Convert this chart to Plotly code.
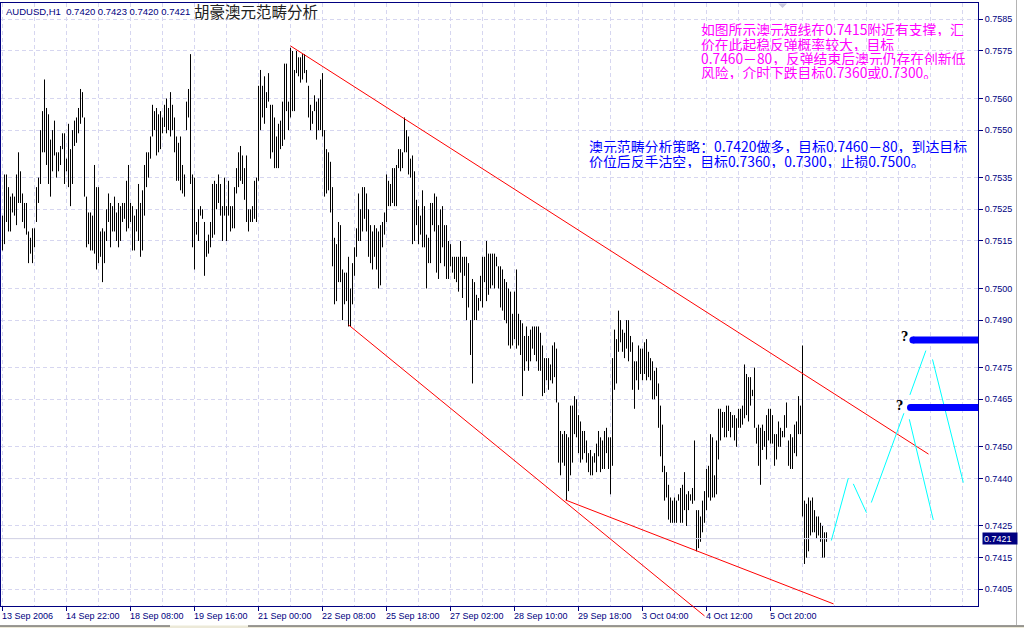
import plotly.graph_objects as go

# ---------------- data ----------------
symbol_header = "AUDUSD,H1\u00a0\u00a00.7420 0.7423 0.7420 0.7421"
title_cn = "胡豪澳元范畴分析"

highs = [
    0.7523, 0.7536, 0.7536, 0.7532, 0.7529, 0.7530, 0.7529, 0.7536, 0.7543, 0.7537,
    0.7530, 0.7527, 0.7527, 0.7518, 0.7516, 0.7519, 0.7519, 0.7532, 0.7535, 0.7550,
    0.7556, 0.7566, 0.7557, 0.7555, 0.7547, 0.7550, 0.7553, 0.7543, 0.7543, 0.7545,
    0.7549, 0.7549, 0.7541, 0.7552, 0.7544, 0.7550, 0.7553, 0.7554, 0.7557, 0.7563,
    0.7562, 0.7554, 0.7529, 0.7524, 0.7524, 0.7523, 0.7539, 0.7532, 0.7532, 0.7518,
    0.7519, 0.7518, 0.7525, 0.7530, 0.7527, 0.7526, 0.7529, 0.7524, 0.7527, 0.7526,
    0.7527, 0.7527, 0.7534, 0.7539, 0.7527, 0.7526, 0.7523, 0.7525, 0.7533, 0.7527,
    0.7531, 0.7539, 0.7543, 0.7543, 0.7548, 0.7558, 0.7556, 0.7557, 0.7555, 0.7556,
    0.7554, 0.7558, 0.7560, 0.7557, 0.7562, 0.7558, 0.7554, 0.7548, 0.7546, 0.7548,
    0.7539, 0.7536, 0.7559, 0.7563, 0.7574, 0.7536, 0.7535, 0.7521, 0.7525, 0.7526,
    0.7525, 0.7521, 0.7515, 0.7517, 0.7521, 0.7533, 0.7534, 0.7533, 0.7536, 0.7533,
    0.7526, 0.7535, 0.7526, 0.7534, 0.7526, 0.7526, 0.7532, 0.7538, 0.7543, 0.7545,
    0.7542, 0.7538, 0.7542, 0.7525, 0.7525, 0.7526, 0.7534, 0.7535, 0.7564, 0.7569,
    0.7564, 0.7567, 0.7562, 0.7568, 0.7558, 0.7558, 0.7554, 0.7548, 0.7552, 0.7553,
    0.7559, 0.7571, 0.7571, 0.7559, 0.7576, 0.7575, 0.7569, 0.7575, 0.7573, 0.7573,
    0.7574, 0.7574, 0.7569, 0.7564, 0.7558, 0.7556, 0.7561, 0.7559, 0.7560, 0.7566,
    0.7568, 0.7550, 0.7544, 0.7543, 0.7540, 0.7532, 0.7516, 0.7514, 0.7521, 0.7520,
    0.7506, 0.7505, 0.7505, 0.7510, 0.7500, 0.7508, 0.7513, 0.7519, 0.7530, 0.7525,
    0.7532, 0.7532, 0.7530, 0.7525, 0.7520, 0.7518, 0.7520, 0.7519, 0.7518, 0.7520,
    0.7521, 0.7524, 0.7536, 0.7534, 0.7533, 0.7538, 0.7538, 0.7539, 0.7544, 0.7544,
    0.7543, 0.7554, 0.7550, 0.7548, 0.7541, 0.7542, 0.7537, 0.7528, 0.7526, 0.7523,
    0.7531, 0.7526, 0.7517, 0.7516, 0.7527, 0.7527, 0.7530, 0.7529, 0.7520, 0.7525,
    0.7526, 0.7520, 0.7520, 0.7515, 0.7514, 0.7510, 0.7510, 0.7510, 0.7510, 0.7515,
    0.7510, 0.7510, 0.7510, 0.7508, 0.7490, 0.7503, 0.7502, 0.7498, 0.7497, 0.7504,
    0.7510, 0.7510, 0.7515, 0.7511, 0.7511, 0.7511, 0.7511, 0.7510, 0.7507, 0.7507,
    0.7506, 0.7503, 0.7502, 0.7500, 0.7499, 0.7492, 0.7499, 0.7506, 0.7492, 0.7490,
    0.7489, 0.7485, 0.7488, 0.7485, 0.7487, 0.7488, 0.7488, 0.7488, 0.7488, 0.7486,
    0.7482, 0.7478, 0.7478, 0.7478, 0.7476, 0.7482, 0.7483, 0.7481, 0.7464, 0.7455,
    0.7454, 0.7455, 0.7454, 0.7453, 0.7463, 0.7463, 0.7466, 0.7465, 0.7460, 0.7458,
    0.7455, 0.7455, 0.7452, 0.7448, 0.7449, 0.7447, 0.7448, 0.7451, 0.7455, 0.7453,
    0.7452, 0.7455, 0.7456, 0.7453, 0.7453, 0.7478, 0.7487, 0.7484, 0.7493, 0.7490,
    0.7487, 0.7486, 0.7490, 0.7490, 0.7485, 0.7483, 0.7477, 0.7477, 0.7482, 0.7481,
    0.7481, 0.7483, 0.7484, 0.7480, 0.7478, 0.7477, 0.7474, 0.7475, 0.7470, 0.7463,
    0.7457, 0.7444, 0.7442, 0.7438, 0.7434, 0.7433, 0.7434, 0.7433, 0.7435, 0.7437,
    0.7438, 0.7442, 0.7435, 0.7436, 0.7435, 0.7437, 0.7452, 0.7430, 0.7430, 0.7428,
    0.7433, 0.7436, 0.7443, 0.7444, 0.7454, 0.7453, 0.7441, 0.7452, 0.7462, 0.7462,
    0.7461, 0.7461, 0.7463, 0.7463, 0.7461, 0.7460, 0.7460, 0.7459, 0.7462, 0.7462,
    0.7463, 0.7476, 0.7473, 0.7472, 0.7472, 0.7468, 0.7475, 0.7456, 0.7457, 0.7456,
    0.7457, 0.7455, 0.7460, 0.7462, 0.7462, 0.7460, 0.7454, 0.7454, 0.7458, 0.7456,
    0.7455, 0.7460, 0.7464, 0.7452, 0.7454, 0.7453, 0.7457, 0.7458, 0.7466, 0.7463,
    0.7482, 0.7433, 0.7432, 0.7434, 0.7433, 0.7434, 0.7430, 0.7428, 0.7428, 0.7426,
    0.7425, 0.7423, 0.7423,
]

lows = [
    0.7512, 0.7514, 0.7521, 0.7518, 0.7518, 0.7524, 0.7523, 0.7520, 0.7527, 0.7527,
    0.7521, 0.7519, 0.7517, 0.7508, 0.7511, 0.7508, 0.7513, 0.7521, 0.7527, 0.7533,
    0.7543, 0.7543, 0.7539, 0.7533, 0.7529, 0.7537, 0.7542, 0.7535, 0.7537, 0.7539,
    0.7544, 0.7533, 0.7537, 0.7532, 0.7526, 0.7533, 0.7545, 0.7546, 0.7549, 0.7552,
    0.7554, 0.7529, 0.7513, 0.7514, 0.7512, 0.7512, 0.7511, 0.7506, 0.7508, 0.7510,
    0.7502, 0.7508, 0.7515, 0.7521, 0.7513, 0.7518, 0.7518, 0.7515, 0.7513, 0.7515,
    0.7521, 0.7522, 0.7518, 0.7519, 0.7521, 0.7512, 0.7512, 0.7518, 0.7515, 0.7510,
    0.7512, 0.7523, 0.7532, 0.7535, 0.7541, 0.7548, 0.7550, 0.7542, 0.7543, 0.7544,
    0.7549, 0.7551, 0.7549, 0.7550, 0.7548, 0.7550, 0.7543, 0.7534, 0.7534, 0.7531,
    0.7530, 0.7529, 0.7550, 0.7554, 0.7533, 0.7513, 0.7506, 0.7517, 0.7515, 0.7523,
    0.7522, 0.7504, 0.7510, 0.7511, 0.7513, 0.7516, 0.7517, 0.7525, 0.7527, 0.7523,
    0.7515, 0.7523, 0.7515, 0.7523, 0.7518, 0.7519, 0.7519, 0.7530, 0.7532, 0.7534,
    0.7533, 0.7528, 0.7521, 0.7518, 0.7521, 0.7521, 0.7522, 0.7521, 0.7534, 0.7550,
    0.7554, 0.7552, 0.7557, 0.7559, 0.7541, 0.7543, 0.7538, 0.7538, 0.7538, 0.7544,
    0.7545, 0.7547, 0.7556, 0.7550, 0.7554, 0.7556, 0.7556, 0.7568, 0.7567, 0.7565,
    0.7566, 0.7568, 0.7565, 0.7554, 0.7550, 0.7552, 0.7556, 0.7547, 0.7550, 0.7550,
    0.7548, 0.7529, 0.7530, 0.7531, 0.7524, 0.7507, 0.7495, 0.7496, 0.7502, 0.7502,
    0.7490, 0.7495, 0.7496, 0.7488, 0.7488, 0.7495, 0.7504, 0.7510, 0.7515, 0.7515,
    0.7518, 0.7522, 0.7518, 0.7510, 0.7508, 0.7506, 0.7510, 0.7506, 0.7500, 0.7501,
    0.7513, 0.7517, 0.7521, 0.7526, 0.7526, 0.7527, 0.7526, 0.7526, 0.7538, 0.7537,
    0.7538, 0.7543, 0.7543, 0.7536, 0.7535, 0.7514, 0.7515, 0.7520, 0.7514, 0.7517,
    0.7513, 0.7513, 0.7500, 0.7508, 0.7508, 0.7520, 0.7518, 0.7505, 0.7503, 0.7508,
    0.7513, 0.7507, 0.7503, 0.7503, 0.7507, 0.7505, 0.7503, 0.7502, 0.7499, 0.7505,
    0.7497, 0.7504, 0.7490, 0.7494, 0.7479, 0.7470, 0.7490, 0.7490, 0.7493, 0.7496,
    0.7494, 0.7502, 0.7496, 0.7498, 0.7500, 0.7501, 0.7500, 0.7507, 0.7500, 0.7494,
    0.7493, 0.7490, 0.7489, 0.7482, 0.7481, 0.7482, 0.7484, 0.7481, 0.7482, 0.7479,
    0.7466, 0.7474, 0.7477, 0.7474, 0.7477, 0.7481, 0.7479, 0.7477, 0.7474, 0.7474,
    0.7466, 0.7467, 0.7471, 0.7468, 0.7471, 0.7470, 0.7472, 0.7464, 0.7445, 0.7441,
    0.7445, 0.7444, 0.7433, 0.7436, 0.7441, 0.7445, 0.7454, 0.7453, 0.7448, 0.7445,
    0.7446, 0.7448, 0.7445, 0.7442, 0.7441, 0.7441, 0.7445, 0.7442, 0.7447, 0.7442,
    0.7443, 0.7443, 0.7448, 0.7443, 0.7435, 0.7444, 0.7468, 0.7470, 0.7480, 0.7483,
    0.7480, 0.7478, 0.7481, 0.7477, 0.7480, 0.7468, 0.7462, 0.7471, 0.7468, 0.7473,
    0.7471, 0.7473, 0.7471, 0.7472, 0.7471, 0.7465, 0.7465, 0.7466, 0.7456, 0.7447,
    0.7442, 0.7433, 0.7434, 0.7427, 0.7426, 0.7426, 0.7426, 0.7426, 0.7433, 0.7426,
    0.7426, 0.7430, 0.7425, 0.7430, 0.7433, 0.7432, 0.7433, 0.7417, 0.7418, 0.7420,
    0.7423, 0.7426, 0.7430, 0.7434, 0.7433, 0.7434, 0.7434, 0.7435, 0.7446, 0.7452,
    0.7456, 0.7453, 0.7453, 0.7455, 0.7453, 0.7456, 0.7452, 0.7450, 0.7456, 0.7456,
    0.7457, 0.7459, 0.7460, 0.7458, 0.7463, 0.7466, 0.7456, 0.7451, 0.7444, 0.7438,
    0.7449, 0.7450, 0.7446, 0.7452, 0.7451, 0.7451, 0.7444, 0.7446, 0.7450, 0.7450,
    0.7453, 0.7453, 0.7456, 0.7444, 0.7443, 0.7443, 0.7448, 0.7447, 0.7454, 0.7454,
    0.7428, 0.7413, 0.7415, 0.7417, 0.7422, 0.7423, 0.7423, 0.7421, 0.7422, 0.7420,
    0.7415, 0.7415, 0.7420,
]

last_close = 0.7421

x_tick_bars = list(range(0, 385, 32))
x_tick_labels = ["13 Sep 2006", "14 Sep 22:00", "18 Sep 08:00", "19 Sep 16:00",
                 "21 Sep 00:00", "22 Sep 08:00", "25 Sep 18:00", "27 Sep 02:00",
                 "28 Sep 10:00", "29 Sep 18:00", "3 Oct 04:00", "4 Oct 12:00",
                 "5 Oct 20:00"]
minor_grid_bars = [b for b in range(16, 481, 16) if b not in x_tick_bars]

y_tick_vals = [0.7585, 0.7575, 0.7560, 0.7550, 0.7535, 0.7525, 0.7515, 0.7500,
               0.7490, 0.7475, 0.7465, 0.7450, 0.7440, 0.7425, 0.7415, 0.7405]

# trend lines (bar index, price)
upper_channel_x = [144.0, 463.0]
upper_channel_y = [0.75766, 0.74477]
lower_channel1_x = [173.0, 351.0]
lower_channel1_y = [0.74885, 0.73966]
lower_channel2_x = [281.5, 415.5]
lower_channel2_y = [0.74332, 0.74004]

# forecast zig-zag segments (bar index, price)
forecast_x = [[414.4, 422.9], [425.4, 432.0], [434.4, 450.7],
              [453.4, 465.4], [453.7, 461.7], [465.0, 480.4]]
forecast_y = [[0.74204, 0.74401], [0.74383, 0.74292], [0.74324, 0.74606],
              [0.74587, 0.74269], [0.74664, 0.74804], [0.74776, 0.74387]]

# target levels
target_levels = [0.74837, 0.74624]
target_start = [455.2, 454.0]
target_end = 489.0
question_x = [451.2, 448.3]
question_y = [0.74848, 0.74629]

pink_lines = ["如图所示澳元短线在0.7415附近有支撑，汇",
              "价在此起稳反弹概率较大，目标",
              "0.7460－80，反弹结束后澳元仍存在创新低",
              "风险，介时下跌目标0.7360或0.7300。"]
blue_lines = ["澳元范畴分析策略：0.7420做多，目标0.7460－80，到达目标",
              "价位后反手沽空，目标0.7360，0.7300，止损0.7500。"]

# ---------------- figure ----------------
W, H = 1024, 628
ML, MR, MT, MB = 1, 46, 3, 22
X_RANGE = [-0.75, 487.75]
Y_RANGE = [0.739973, 0.759015]
NAVY = "#000080"
GRID = "#d6d6f0"
TICK_FONT = dict(family="Liberation Sans", size=9, color=NAVY)


def px(x):  # pixel -> paper x
    return (x - ML) / (W - ML - MR)


def py(y):  # pixel -> paper y
    return (H - MB - y) / (H - MT - MB)


def data_to_paper_x(v):
    return (v - X_RANGE[0]) / (X_RANGE[1] - X_RANGE[0])


def data_to_paper_y(v):
    return (v - Y_RANGE[0]) / (Y_RANGE[1] - Y_RANGE[0])


fig = go.Figure()

# price bars (high-low)
bx, by = [], []
for i, (h, l) in enumerate(zip(highs, lows)):
    bx += [i, i, None]
    by += [l, h, None]
fig.add_trace(go.Scatter(x=bx, y=by, mode="lines",
                         line=dict(color="black", width=1), hoverinfo="skip"))

# current price line
fig.add_trace(go.Scatter(x=[X_RANGE[0], X_RANGE[1]], y=[last_close, last_close],
                         mode="lines", line=dict(color="#cfcfe4", width=1),
                         hoverinfo="skip"))

# channel lines
for cx, cy in [(upper_channel_x, upper_channel_y),
               (lower_channel1_x, lower_channel1_y),
               (lower_channel2_x, lower_channel2_y)]:
    fig.add_trace(go.Scatter(x=cx, y=cy, mode="lines",
                             line=dict(color="#ff0000", width=1), hoverinfo="skip"))

# forecast zigzag
for fx, fy in zip(forecast_x, forecast_y):
    fig.add_trace(go.Scatter(x=fx, y=fy, mode="lines",
                             line=dict(color="#00ffff", width=1), hoverinfo="skip"))

# target bars
for lvl, xs in zip(target_levels, target_start):
    fig.add_trace(go.Scatter(x=[xs, target_end], y=[lvl, lvl], mode="lines+markers",
                             line=dict(color="#0000ff", width=7),
                             marker=dict(color="#0000ff", size=7),
                             cliponaxis=False, hoverinfo="skip"))

shapes = []
# part of the lower channel line drawn below the axis (not clipped in original)
x0p = data_to_paper_x(lower_channel1_x[0])
y0p = data_to_paper_y(lower_channel1_y[0])
x1p = data_to_paper_x(lower_channel1_x[1])
y1p = data_to_paper_y(lower_channel1_y[1])
t0 = (0 - y0p) / (y1p - y0p)
shapes.append(dict(type="line", xref="paper", yref="paper",
                   x0=x0p + t0 * (x1p - x0p), y0=0, x1=x1p, y1=y1p,
                   line=dict(color="#ff0000", width=1), layer="above"))
# chart shift marker
shapes.append(dict(type="path", xref="paper", yref="paper",
                   path=f"M {px(778)} {py(3.5)} L {px(787)} {py(3.5)} L {px(782.5)} {py(8)} Z",
                   fillcolor="#c8c8dc", line=dict(width=0), layer="above"))
# window frame details (right edge line and bottom strip)
shapes.append(dict(type="line", xref="paper", yref="paper",
                   x0=px(1016.5), x1=px(1016.5), y0=py(625), y1=py(0),
                   line=dict(color="#b4b4b4", width=1), layer="above"))
shapes.append(dict(type="rect", xref="paper", yref="paper",
                   x0=px(0), x1=px(1024), y0=py(628), y1=py(625.5),
                   fillcolor="#ece9d8", line=dict(width=0), layer="above"))
for a, b in [(0, 170), (248, 1024)]:
    shapes.append(dict(type="line", xref="paper", yref="paper",
                       x0=px(a), x1=px(b), y0=py(626), y1=py(626),
                       line=dict(color="#404040", width=1), layer="above"))

annotations = []
# header
annotations.append(dict(x=px(4), y=py(11.5), xref="paper", yref="paper",
                        text=symbol_header, showarrow=False, xanchor="left",
                        yanchor="middle",
                        font=dict(family="Liberation Sans", size=9.5, color=NAVY)))
annotations.append(dict(x=px(192), y=py(11), xref="paper", yref="paper",
                        text=title_cn, showarrow=False, xanchor="left",
                        yanchor="middle",
                        font=dict(family="Noto Sans CJK SC", size=15.5, color="#222222")))
for t, yy in zip(pink_lines, [29.3, 43.7, 58.3, 71.7]):
    annotations.append(dict(x=px(700), y=py(yy), xref="paper", yref="paper",
                            text=t, showarrow=False, xanchor="left", yanchor="middle",
                            height=14, borderpad=0,
                            font=dict(family="Noto Sans CJK SC", size=13.8, color="#ff00ff")))
for t, yy in zip(blue_lines, [145.7, 161.0]):
    annotations.append(dict(x=px(588), y=py(yy), xref="paper", yref="paper",
                            text=t, showarrow=False, xanchor="left", yanchor="middle",
                            height=14, borderpad=0,
                            font=dict(family="Noto Sans CJK SC", size=13.9, color="#0000ff")))
# question marks
for qx, qy in zip(question_x, question_y):
    annotations.append(dict(x=qx, y=qy, xref="x", yref="y", text="<b>?</b>",
                            showarrow=False, xanchor="center", yanchor="middle",
                            font=dict(family="DejaVu Serif", size=12, color="#000000")))
# x tick labels (left-aligned at the tick like the original)
for b, lab in zip(x_tick_bars, x_tick_labels):
    annotations.append(dict(x=b, y=0, xref="x", yref="paper", text=lab,
                            showarrow=False, xanchor="left", yanchor="top",
                            xshift=-3, yshift=-3, font=TICK_FONT))
# current price label
annotations.append(dict(x=px(982), y=last_close, xref="paper", yref="y",
                        text=f"{last_close:.4f}", showarrow=False, xanchor="left",
                        yanchor="middle", bgcolor=NAVY, borderpad=1, width=32, height=9,
                        align="left",
                        font=dict(family="Liberation Sans", size=9, color="white")))

fig.update_layout(
    width=W, height=H,
    margin=dict(l=ML, r=MR, t=MT, b=MB, pad=0),
    paper_bgcolor="white", plot_bgcolor="white",
    showlegend=False,
    shapes=shapes, annotations=annotations,
    xaxis=dict(range=X_RANGE, showline=True, linecolor=NAVY, linewidth=1, mirror=True,
               zeroline=False, tickvals=x_tick_bars, showticklabels=False,
               ticks="outside", ticklen=4, tickcolor=NAVY,
               showgrid=True, gridcolor=GRID, griddash="4px,3px", gridwidth=1,
               minor=dict(tickvals=minor_grid_bars, showgrid=True, gridcolor=GRID,
                          griddash="4px,3px", ticks="")),
    yaxis=dict(range=Y_RANGE, side="right", showline=True, linecolor=NAVY, linewidth=1,
               mirror=True, zeroline=False, tickvals=y_tick_vals,
               ticktext=[f"{v:.4f}" for v in y_tick_vals], automargin=False,
               ticks="outside", ticklen=4, tickcolor=NAVY, tickfont=TICK_FONT,
               showgrid=True, gridcolor=GRID, griddash="4px,3px", gridwidth=1),
)

fig.write_html("out.html",
               config={"displayModeBar": False},
               post_script="document.body.style.margin='0';document.body.style.padding='0';"
                           "document.body.style.overflow='hidden';")
